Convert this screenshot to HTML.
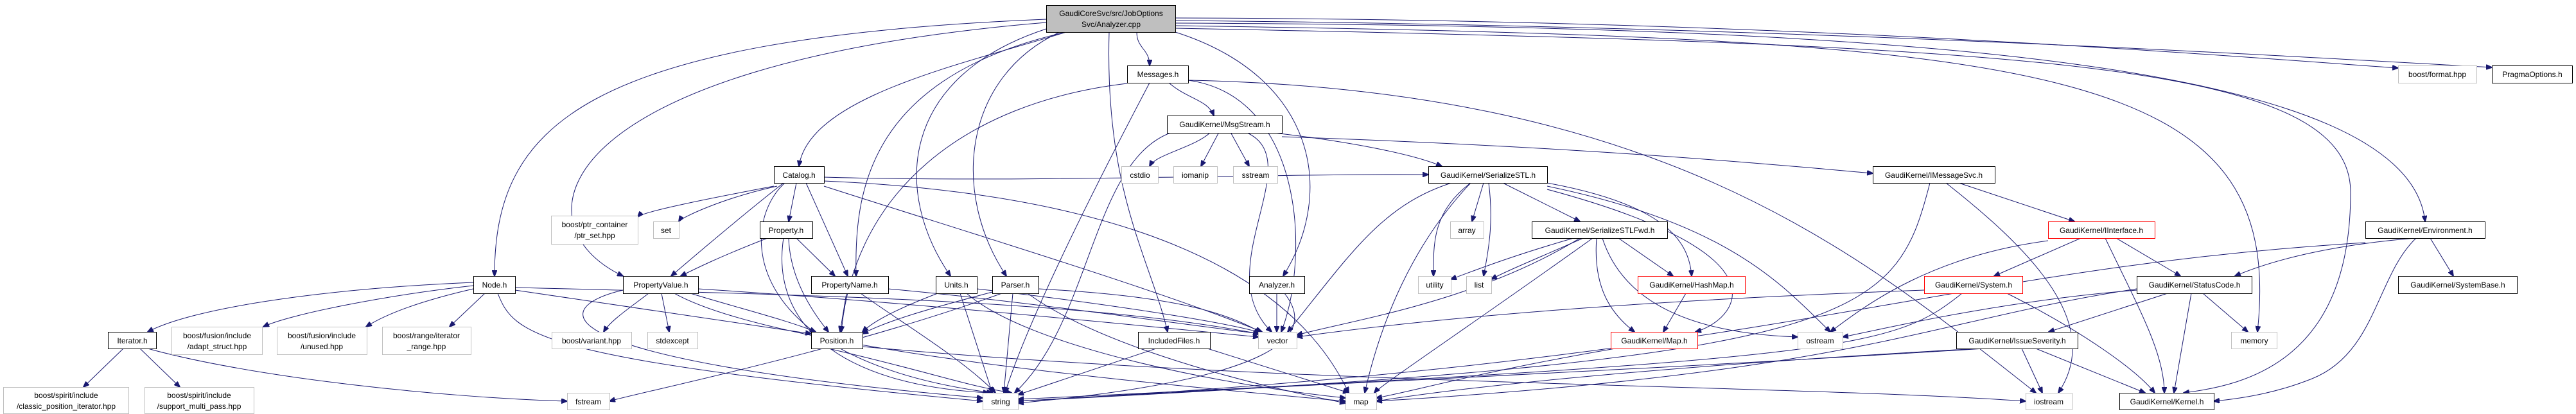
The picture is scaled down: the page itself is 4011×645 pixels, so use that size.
<!DOCTYPE html>
<html><head><meta charset="utf-8"><style>
html,body{margin:0;padding:0;background:#fff}
svg{display:block}
text{font-family:"Liberation Sans",sans-serif;font-size:12px;fill:#000}
.e path{fill:none;stroke:#191970;stroke-width:1}
.b{fill:#fff;stroke:#000;stroke-width:1}
.g{fill:#fff;stroke:#bfbfbf;stroke-width:1}
.r{fill:#fff;stroke:#ff0000;stroke-width:1}
</style></head><body>
<svg width="4011" height="645" viewBox="0 0 4011 645" xmlns="http://www.w3.org/2000/svg">
<defs><marker id="a" markerWidth="10" markerHeight="8" refX="9" refY="4" orient="auto" markerUnits="userSpaceOnUse"><path d="M0,0 L10,4 L0,8 z" fill="#191970" stroke="#191970"/></marker></defs>
<g class="e" marker-end="url(#a)">
<path marker-end="url(#a)" d="M1770 50 C1770 76 1790 76 1790 102"/>
<path marker-end="url(#a)" d="M1660 50 C1500 100 1260 150 1244 259"/>
<path marker-end="url(#a)" d="M1629 30 C900 60 770 200 770 430"/>
<path marker-end="url(#a)" d="M1629 35 C850 100 800 350 970 430"/>
<path marker-end="url(#a)" d="M1660 50 C1350 120 1330 300 1333 430"/>
<path marker-end="url(#a)" d="M1629 45 C1400 120 1390 300 1480 430"/>
<path marker-end="url(#a)" d="M1650 50 C1500 120 1480 300 1567 430"/>
<path marker-end="url(#a)" d="M1727 50 C1720 300 1790 400 1818 517"/>
<path marker-end="url(#a)" d="M1830 50 C2050 120 2080 300 1998 430"/>
<path marker-end="url(#a)" d="M1830 28 C2800 30 3500 90 3734 106"/>
<path marker-end="url(#a)" d="M1830 32 C2800 40 3600 90 3880 105"/>
<path marker-end="url(#a)" d="M1830 36 C3000 40 3750 100 3776 345"/>
<path marker-end="url(#a)" d="M1830 40 C3200 60 3560 100 3515 517"/>
<path marker-end="url(#a)" d="M1830 44 C3200 70 3660 100 3660 300 C3660 560 3500 600 3400 612"/>
<path marker-end="url(#a)" d="M1820 129 C1850 155 1880 155 1890 180"/>
<path marker-end="url(#a)" d="M1790 129 C1700 300 1600 500 1565 612"/>
<path marker-end="url(#a)" d="M1850 125 C2030 150 2040 400 1995 517"/>
<path marker-end="url(#a)" d="M1850 125 C2600 140 2900 400 3170 612"/>
<path marker-end="url(#a)" d="M1755 130 C1500 160 1330 300 1310 517"/>
<path marker-end="url(#a)" d="M1885 206 C1860 230 1800 240 1790 259"/>
<path marker-end="url(#a)" d="M1898 206 L1870 259"/>
<path marker-end="url(#a)" d="M1916 206 L1945 259"/>
<path marker-end="url(#a)" d="M1996 213 C2500 230 2800 260 2916 270"/>
<path marker-end="url(#a)" d="M1975 206 C2100 220 2200 240 2245 259"/>
<path marker-end="url(#a)" d="M1825 206 C1700 250 1700 500 1580 612"/>
<path marker-end="url(#a)" d="M1940 206 C2040 250 1880 420 1980 517"/>
<path marker-end="url(#a)" d="M1205 290 C1100 310 1000 330 993 338"/>
<path marker-end="url(#a)" d="M1210 290 C1120 310 1060 340 1057 345"/>
<path marker-end="url(#a)" d="M1240 285 L1228 345"/>
<path marker-end="url(#a)" d="M1220 285 C1150 340 1080 400 1045 430"/>
<path marker-end="url(#a)" d="M1255 285 L1320 430"/>
<path marker-end="url(#a)" d="M1283 290 C1500 360 1800 450 1965 517"/>
<path marker-end="url(#a)" d="M1283 282 C1700 300 2000 400 2100 612"/>
<path marker-end="url(#a)" d="M1283 276 C1600 285 2000 270 2224 272"/>
<path marker-end="url(#a)" d="M1222 285 C1150 350 1150 560 1545 612"/>
<path marker-end="url(#a)" d="M1195 371 C1120 400 1080 420 1060 430"/>
<path marker-end="url(#a)" d="M1240 371 L1300 430"/>
<path marker-end="url(#a)" d="M1228 371 C1230 430 1260 480 1290 517"/>
<path marker-end="url(#a)" d="M1220 371 C1200 500 1300 600 1540 612"/>
<path marker-end="url(#a)" d="M1010 457 C980 480 950 500 940 517"/>
<path marker-end="url(#a)" d="M1030 457 L1042 517"/>
<path marker-end="url(#a)" d="M1075 457 C1150 480 1230 500 1270 517"/>
<path marker-end="url(#a)" d="M1087 450 C1400 470 1700 500 1960 525"/>
<path marker-end="url(#a)" d="M970 452 C850 480 840 560 1530 620"/>
<path marker-end="url(#a)" d="M1050 457 C1200 540 1700 590 2095 625"/>
<path marker-end="url(#a)" d="M1318 457 L1308 517"/>
<path marker-end="url(#a)" d="M1383 450 C1600 470 1800 500 1962 520"/>
<path marker-end="url(#a)" d="M1340 457 C1400 500 1500 560 1550 612"/>
<path marker-end="url(#a)" d="M737 440 C500 450 300 480 230 517"/>
<path marker-end="url(#a)" d="M737 445 C600 460 450 490 410 509"/>
<path marker-end="url(#a)" d="M737 450 C650 470 600 490 570 509"/>
<path marker-end="url(#a)" d="M755 457 L700 509"/>
<path marker-end="url(#a)" d="M802 452 C1000 480 1200 510 1263 520"/>
<path marker-end="url(#a)" d="M802 448 C1300 460 1700 470 1960 520"/>
<path marker-end="url(#a)" d="M775 457 C800 520 830 560 1530 625"/>
<path marker-end="url(#a)" d="M192 543 L130 603"/>
<path marker-end="url(#a)" d="M218 543 L280 603"/>
<path marker-end="url(#a)" d="M230 543 C400 590 700 620 883 625"/>
<path marker-end="url(#a)" d="M1290 543 C1450 580 1500 600 1575 612"/>
<path marker-end="url(#a)" d="M1343 540 C2000 600 2800 600 3154 625"/>
<path marker-end="url(#a)" d="M1495 457 L1545 612"/>
<path marker-end="url(#a)" d="M1521 450 C1700 470 1900 500 1962 518"/>
<path marker-end="url(#a)" d="M1505 457 C1600 540 1900 600 2095 620"/>
<path marker-end="url(#a)" d="M1460 457 C1400 480 1360 500 1343 517"/>
<path marker-end="url(#a)" d="M1577 457 L1563 612"/>
<path marker-end="url(#a)" d="M1617 450 C1800 460 1900 480 1963 518"/>
<path marker-end="url(#a)" d="M1600 457 C1700 530 1900 590 2095 628"/>
<path marker-end="url(#a)" d="M1560 457 C1300 550 1000 610 949 625"/>
<path marker-end="url(#a)" d="M1545 455 C1450 480 1380 500 1343 520"/>
<path marker-end="url(#a)" d="M1800 543 L1585 615"/>
<path marker-end="url(#a)" d="M1880 543 L2100 612"/>
<path marker-end="url(#a)" d="M1988 457 L1988 517"/>
<path marker-end="url(#a)" d="M2000 457 C2050 520 2000 590 1585 628"/>
<path marker-end="url(#a)" d="M2310 285 L2292 345"/>
<path marker-end="url(#a)" d="M2340 285 L2460 345"/>
<path marker-end="url(#a)" d="M2290 285 C2230 330 2232 380 2232 430"/>
<path marker-end="url(#a)" d="M2318 285 C2325 340 2320 380 2310 430"/>
<path marker-end="url(#a)" d="M2409 285 C2600 320 2630 380 2634 430"/>
<path marker-end="url(#a)" d="M2409 295 C2800 400 2700 500 2640 517"/>
<path marker-end="url(#a)" d="M2290 285 C2200 380 2150 500 2125 612"/>
<path marker-end="url(#a)" d="M2260 285 C2150 320 2100 400 2005 517"/>
<path marker-end="url(#a)" d="M2409 290 C2700 350 2780 450 2850 517"/>
<path marker-end="url(#a)" d="M2450 371 C2350 400 2300 420 2259 435"/>
<path marker-end="url(#a)" d="M2465 371 C2400 400 2350 420 2322 435"/>
<path marker-end="url(#a)" d="M2520 371 L2605 430"/>
<path marker-end="url(#a)" d="M2486 371 C2480 450 2510 490 2545 517"/>
<path marker-end="url(#a)" d="M2480 371 C2300 500 2150 600 2140 612"/>
<path marker-end="url(#a)" d="M2460 371 C2300 470 2100 500 2019 522"/>
<path marker-end="url(#a)" d="M2495 371 C2530 480 2650 520 2799 525"/>
<path marker-end="url(#a)" d="M2625 457 L2590 517"/>
<path marker-end="url(#a)" d="M2515 543 C2300 580 2200 610 2143 620"/>
<path marker-end="url(#a)" d="M3050 285 L3230 345"/>
<path marker-end="url(#a)" d="M3005 285 C2950 500 2900 560 1585 625"/>
<path marker-end="url(#a)" d="M3030 285 C3150 380 3280 500 3205 612"/>
<path marker-end="url(#a)" d="M3240 371 L3105 430"/>
<path marker-end="url(#a)" d="M3295 371 L3395 430"/>
<path marker-end="url(#a)" d="M3278 371 C3330 480 3370 550 3370 612"/>
<path marker-end="url(#a)" d="M3189 375 C3000 400 2900 480 2850 517"/>
<path marker-end="url(#a)" d="M3125 457 C3250 520 3330 580 3355 612"/>
<path marker-end="url(#a)" d="M3055 457 C2950 540 2900 560 1585 622"/>
<path marker-end="url(#a)" d="M2996 452 C2500 470 2200 500 2019 525"/>
<path marker-end="url(#a)" d="M3375 457 L3190 517"/>
<path marker-end="url(#a)" d="M3412 457 L3385 612"/>
<path marker-end="url(#a)" d="M3430 457 L3500 517"/>
<path marker-end="url(#a)" d="M3327 452 C3100 470 2900 520 2869 525"/>
<path marker-end="url(#a)" d="M3327 450 C3000 500 2900 580 2143 625"/>
<path marker-end="url(#a)" d="M3170 543 L3340 612"/>
<path marker-end="url(#a)" d="M3148 543 L3180 612"/>
<path marker-end="url(#a)" d="M3090 543 C2500 580 2000 600 1585 625"/>
<path marker-end="url(#a)" d="M3080 543 C2600 570 2300 600 2143 625"/>
<path marker-end="url(#a)" d="M3760 371 C3650 380 3550 400 3480 430"/>
<path marker-end="url(#a)" d="M3784 371 L3820 430"/>
<path marker-end="url(#a)" d="M3762 371 C3700 430 3700 550 3600 590 C3550 610 3500 620 3447 625"/>
<path marker-end="url(#a)" d="M3683 378 C3000 420 2800 560 1585 625"/>
</g>
<g text-anchor="middle">
<rect x="1629.5" y="8.5" width="201" height="42" fill="#bfbfbf" stroke="#000"/>
<text x="1730" y="25">GaudiCoreSvc/src/JobOptions</text><text x="1730" y="42">Svc/Analyzer.cpp</text>

<rect class="b" x="1755.5" y="102.5" width="95" height="27"/><text x="1803" y="120">Messages.h</text>
<rect class="g" x="3734.5" y="102.5" width="122" height="27"/><text x="3795" y="120">boost/format.hpp</text>
<rect class="b" x="3880.5" y="102.5" width="125" height="27"/><text x="3943" y="120">PragmaOptions.h</text>

<rect class="b" x="1817.5" y="180.5" width="179" height="27"/><text x="1907" y="198">GaudiKernel/MsgStream.h</text>

<rect class="b" x="1205.5" y="259.5" width="78" height="26"/><text x="1244" y="277">Catalog.h</text>
<rect class="g" x="1746.5" y="259.5" width="57" height="26"/><text x="1775" y="277">cstdio</text>
<rect class="g" x="1827.5" y="259.5" width="68" height="26"/><text x="1861" y="277">iomanip</text>
<rect class="g" x="1920.5" y="259.5" width="69" height="26"/><text x="1955" y="277">sstream</text>
<rect class="b" x="2224.5" y="259.5" width="185" height="26"/><text x="2317" y="277">GaudiKernel/SerializeSTL.h</text>
<rect class="b" x="2916.5" y="259.5" width="190" height="26"/><text x="3011" y="277">GaudiKernel/IMessageSvc.h</text>

<rect class="g" x="858.5" y="336.5" width="135" height="44"/><text x="926" y="354">boost/ptr_container</text><text x="926" y="371">/ptr_set.hpp</text>
<rect class="g" x="1017.5" y="345.5" width="40" height="26"/><text x="1037" y="363">set</text>
<rect class="b" x="1183.5" y="345.5" width="82" height="26"/><text x="1224" y="363">Property.h</text>
<rect class="g" x="2258.5" y="345.5" width="52" height="26"/><text x="2284" y="363">array</text>
<rect class="b" x="2385.5" y="345.5" width="211" height="26"/><text x="2491" y="363">GaudiKernel/SerializeSTLFwd.h</text>
<rect class="r" x="3189.5" y="345.5" width="166" height="26"/><text x="3272" y="363">GaudiKernel/IInterface.h</text>
<rect class="b" x="3683.5" y="345.5" width="186" height="26"/><text x="3776" y="363">GaudiKernel/Environment.h</text>

<rect class="b" x="737.5" y="430.5" width="65" height="27"/><text x="770" y="448">Node.h</text>
<rect class="b" x="970.5" y="430.5" width="117" height="27"/><text x="1029" y="448">PropertyValue.h</text>
<rect class="b" x="1263.5" y="430.5" width="120" height="27"/><text x="1323" y="448">PropertyName.h</text>
<rect class="b" x="1457.5" y="430.5" width="64" height="27"/><text x="1489" y="448">Units.h</text>
<rect class="b" x="1545.5" y="430.5" width="72" height="27"/><text x="1581" y="448">Parser.h</text>
<rect class="b" x="1945.5" y="430.5" width="86" height="27"/><text x="1988" y="448">Analyzer.h</text>
<rect class="g" x="2208.5" y="430.5" width="51" height="27"/><text x="2234" y="448">utility</text>
<rect class="g" x="2283.5" y="430.5" width="39" height="27"/><text x="2303" y="448">list</text>
<rect class="r" x="2550.5" y="430.5" width="167" height="27"/><text x="2634" y="448">GaudiKernel/HashMap.h</text>
<rect class="r" x="2996.5" y="430.5" width="153" height="27"/><text x="3073" y="448">GaudiKernel/System.h</text>
<rect class="b" x="3327.5" y="430.5" width="179" height="27"/><text x="3417" y="448">GaudiKernel/StatusCode.h</text>
<rect class="b" x="3734.5" y="430.5" width="185" height="27"/><text x="3827" y="448">GaudiKernel/SystemBase.h</text>

<rect class="b" x="168.5" y="517.5" width="75" height="26"/><text x="206" y="535">Iterator.h</text>
<rect class="g" x="267.5" y="509.5" width="141" height="43"/><text x="338" y="527">boost/fusion/include</text><text x="338" y="544">/adapt_struct.hpp</text>
<rect class="g" x="431.5" y="509.5" width="140" height="43"/><text x="501" y="527">boost/fusion/include</text><text x="501" y="544">/unused.hpp</text>
<rect class="g" x="595.5" y="509.5" width="138" height="43"/><text x="664" y="527">boost/range/iterator</text><text x="664" y="544">_range.hpp</text>
<rect class="g" x="859.5" y="517.5" width="124" height="26"/><text x="921" y="535">boost/variant.hpp</text>
<rect class="g" x="1008.5" y="517.5" width="78" height="26"/><text x="1047" y="535">stdexcept</text>
<rect class="b" x="1263.5" y="517.5" width="80" height="26"/><text x="1303" y="535">Position.h</text>
<rect class="b" x="1772.5" y="517.5" width="112" height="26"/><text x="1828" y="535">IncludedFiles.h</text>
<rect class="g" x="1959.5" y="517.5" width="60" height="26"/><text x="1989" y="535">vector</text>
<rect class="r" x="2508.5" y="517.5" width="135" height="26"/><text x="2576" y="535">GaudiKernel/Map.h</text>
<rect class="g" x="2799.5" y="517.5" width="70" height="26"/><text x="2834" y="535">ostream</text>
<rect class="b" x="3046.5" y="517.5" width="189" height="26"/><text x="3141" y="535">GaudiKernel/IssueSeverity.h</text>
<rect class="g" x="3474.5" y="517.5" width="71" height="26"/><text x="3510" y="535">memory</text>

<rect class="g" x="5.5" y="603.5" width="195" height="41"/><text x="103" y="620">boost/spirit/include</text><text x="103" y="637">/classic_position_iterator.hpp</text>
<rect class="g" x="225.5" y="603.5" width="170" height="41"/><text x="310" y="620">boost/spirit/include</text><text x="310" y="637">/support_multi_pass.hpp</text>
<rect class="g" x="883.5" y="612.5" width="66" height="26"/><text x="916" y="630">fstream</text>
<rect class="g" x="1530.5" y="612.5" width="55" height="26"/><text x="1558" y="630">string</text>
<rect class="g" x="2095.5" y="612.5" width="48" height="26"/><text x="2119" y="630">map</text>
<rect class="g" x="3154.5" y="612.5" width="72" height="26"/><text x="3190" y="630">iostream</text>
<rect class="b" x="3300.5" y="612.5" width="147" height="26"/><text x="3374" y="630">GaudiKernel/Kernel.h</text>
</g>
</svg>
</body></html>
